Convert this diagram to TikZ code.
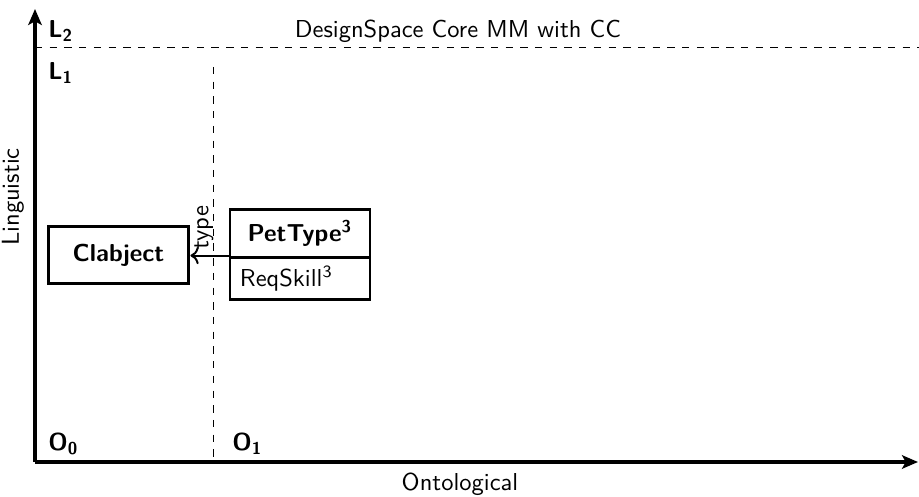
\documentclass[tikz,border=0pt]{standalone}
\usetikzlibrary{arrows.meta}
\renewcommand{\familydefault}{\sfdefault}

\begin{document}
\begin{tikzpicture}[
  x=0.408pt,y=-0.408pt,
  every node/.style={font=\sffamily},
  axis/.style={line width=1.3pt,-{Stealth[length=6.5pt,width=5.5pt,inset=1.5pt]}},
  lvl/.style={anchor=west,inner sep=0pt,font=\sffamily\bfseries},
  clab/.style={draw,line width=1.2pt,minimum width=57.5pt,minimum height=23.3pt,
               font=\sffamily\bfseries},
  head/.style={draw,line width=1.2pt,minimum width=57.1pt,minimum height=19.2pt,
               font=\sffamily\bfseries},
  attr/.style={draw,line width=1.2pt,minimum width=57.1pt,minimum height=17.5pt,
               text width=49pt,align=left,inner xsep=4pt}
]
\useasboundingbox (0,0) rectangle (919,497);

% axes
\coordinate (orig) at (35,462);
\coordinate (ytop) at (35,9);
\coordinate (xend) at (918,462);
\coordinate (lv) at (35,47);
\coordinate (lvend) at (919,47);
\coordinate (ov) at (213,67);
\coordinate (ovend) at (213,462);

\draw[axis] (orig) -- (ytop);
\draw[axis] (orig) -- (xend);
\draw[dashed] (lv) -- (lvend);
\draw[dashed] (ov) -- (ovend);

\node[rotate=90] (ling) at (13,197) {Linguistic};
\node (onto) at (460,484) {Ontological};

\node[lvl] (l2) at (48,31) {L\textsubscript{2}};
\node[lvl] (l1) at (48,73) {L\textsubscript{1}};
\node[lvl] (o0) at (48,444) {O\textsubscript{0}};
\node[lvl] (o1) at (232,444) {O\textsubscript{1}};

\node (title) at (458,31) {DesignSpace Core MM with CC};

% models
\node[clab] (clabject) at (118.5,255) {Clabject};
\node[head] (pettype) at (300,233.5) {PetType\textsuperscript{3}};
\node[attr] (reqskill) at (300,278.5) {ReqSkill\textsuperscript{3}};

\draw[->,thick] (reqskill.north west) -- (reqskill.north west -| clabject.east)
  node[pos=0.65,rotate=90,anchor=west,inner sep=2pt] (typelab) {type};

\end{tikzpicture}
\end{document}
